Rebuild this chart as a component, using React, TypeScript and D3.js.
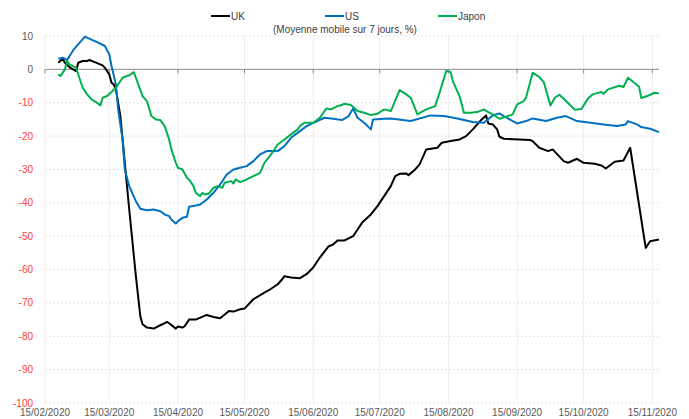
import * as d3 from "d3";

type Pt = [string, number];

// Mobilité, moyenne mobile 7 jours (%)
const ukData: Pt[] = [
  ["2020-02-21", 2], ["2020-02-23", 3.2], ["2020-02-24", 2], ["2020-02-26", 0.7], ["2020-02-29", -0.5],
  ["2020-03-01", 2], ["2020-03-03", 2.5], ["2020-03-05", 2.5], ["2020-03-06", 2.8], ["2020-03-09", 2],
  ["2020-03-12", 1.2], ["2020-03-13", 0.5], ["2020-03-15", -1.5], ["2020-03-16", -4], ["2020-03-17", -4.5],
  ["2020-03-18", -6], ["2020-03-20", -14], ["2020-03-21", -21], ["2020-03-24", -42], ["2020-03-27", -62],
  ["2020-03-29", -74], ["2020-03-30", -76.4], ["2020-04-01", -77.4], ["2020-04-04", -77.7], ["2020-04-06", -77],
  ["2020-04-08", -76.4], ["2020-04-10", -75.7], ["2020-04-11", -76.1], ["2020-04-14", -77.7], ["2020-04-15", -77.1],
  ["2020-04-17", -77.4], ["2020-04-18", -77], ["2020-04-20", -75], ["2020-04-23", -75], ["2020-04-28", -73.6],
  ["2020-05-01", -74.2], ["2020-05-04", -74.6], ["2020-05-08", -72.4], ["2020-05-10", -72.6], ["2020-05-13", -71.9],
  ["2020-05-15", -71.7], ["2020-05-19", -68.9], ["2020-05-24", -66.9], ["2020-05-26", -66.2], ["2020-05-30", -64.4],
  ["2020-06-01", -62.9], ["2020-06-02", -62], ["2020-06-05", -62.4], ["2020-06-09", -62.6], ["2020-06-12", -61.4],
  ["2020-06-15", -59.4], ["2020-06-18", -56.4], ["2020-06-22", -53], ["2020-06-24", -52.5], ["2020-06-26", -51.3],
  ["2020-06-29", -51.3], ["2020-07-03", -50], ["2020-07-07", -46], ["2020-07-11", -43.5], ["2020-07-14", -41],
  ["2020-07-17", -38], ["2020-07-20", -35], ["2020-07-22", -32], ["2020-07-24", -31.3], ["2020-07-27", -31.2],
  ["2020-07-28", -31.7], ["2020-07-31", -30], ["2020-08-02", -28.5], ["2020-08-05", -24], ["2020-08-10", -23.5],
  ["2020-08-12", -22], ["2020-08-16", -21.5], ["2020-08-20", -21], ["2020-08-23", -20], ["2020-08-26", -18],
  ["2020-08-30", -15], ["2020-09-01", -13.8], ["2020-09-02", -16.2], ["2020-09-04", -16.5], ["2020-09-06", -18],
  ["2020-09-07", -20.2], ["2020-09-09", -20.8], ["2020-09-21", -21.2], ["2020-09-22", -21.5], ["2020-09-25", -23.5],
  ["2020-09-29", -24.5], ["2020-10-01", -24], ["2020-10-06", -27.5], ["2020-10-08", -28], ["2020-10-12", -26.8],
  ["2020-10-15", -28], ["2020-10-20", -28.3], ["2020-10-23", -28.8], ["2020-10-25", -29.7], ["2020-10-29", -27.7],
  ["2020-11-02", -27.3], ["2020-11-05", -23.5], ["2020-11-12", -53.5], ["2020-11-14", -51.5], ["2020-11-18", -51],
];

const usData: Pt[] = [
  ["2020-02-21", 3.2], ["2020-02-23", 3.5], ["2020-02-25", 2.8], ["2020-02-28", 6], ["2020-03-04", 9.8],
  ["2020-03-06", 9.2], ["2020-03-10", 8], ["2020-03-13", 7], ["2020-03-15", 4.5], ["2020-03-16", 1],
  ["2020-03-18", -4.5], ["2020-03-19", -12], ["2020-03-21", -21], ["2020-03-22", -30], ["2020-03-24", -35],
  ["2020-03-27", -39.5], ["2020-03-29", -41.8], ["2020-04-01", -42.2], ["2020-04-04", -42], ["2020-04-07", -42.5],
  ["2020-04-09", -43.5], ["2020-04-11", -44], ["2020-04-12", -45], ["2020-04-14", -46.2], ["2020-04-15", -45.5],
  ["2020-04-17", -44.5], ["2020-04-19", -44.2], ["2020-04-20", -41.2], ["2020-04-23", -40.8], ["2020-04-25", -40.5],
  ["2020-04-28", -39], ["2020-05-01", -37], ["2020-05-04", -34.5], ["2020-05-07", -31.5], ["2020-05-10", -30],
  ["2020-05-13", -29.5], ["2020-05-16", -29], ["2020-05-19", -27.5], ["2020-05-22", -25.5], ["2020-05-25", -24.5],
  ["2020-05-30", -24.5], ["2020-06-02", -23], ["2020-06-05", -20.5], ["2020-06-09", -18.5], ["2020-06-12", -17],
  ["2020-06-20", -14.5], ["2020-06-24", -14.8], ["2020-06-28", -15.2], ["2020-07-01", -14], ["2020-07-03", -11.7],
  ["2020-07-05", -14.5], ["2020-07-08", -16], ["2020-07-11", -18], ["2020-07-12", -15], ["2020-07-17", -14.8],
  ["2020-07-20", -14.7], ["2020-07-29", -15.5], ["2020-08-07", -13.8], ["2020-08-13", -14], ["2020-08-19", -14.7],
  ["2020-08-26", -15.8], ["2020-08-31", -16], ["2020-09-04", -13.8], ["2020-09-07", -13.2], ["2020-09-09", -14],
  ["2020-09-13", -15.5], ["2020-09-15", -16.2], ["2020-09-19", -15.5], ["2020-09-22", -14.7], ["2020-09-28", -15.5],
  ["2020-10-03", -14.5], ["2020-10-07", -14], ["2020-10-12", -15.5], ["2020-10-18", -16], ["2020-10-24", -16.5],
  ["2020-10-30", -17], ["2020-11-03", -16.5], ["2020-11-04", -15.5], ["2020-11-08", -16.5], ["2020-11-10", -17.3],
  ["2020-11-14", -17.8], ["2020-11-18", -18.8],
];

const jpData: Pt[] = [
  ["2020-02-21", -1.5], ["2020-02-22", -2], ["2020-02-24", 0], ["2020-02-25", 2.5], ["2020-02-26", 1.5],
  ["2020-02-29", 0.5], ["2020-03-03", -5.5], ["2020-03-05", -7.5], ["2020-03-07", -9], ["2020-03-09", -9.8],
  ["2020-03-11", -10.8], ["2020-03-12", -8.5], ["2020-03-14", -8], ["2020-03-16", -6.8], ["2020-03-18", -5.5],
  ["2020-03-21", -2.5], ["2020-03-23", -2], ["2020-03-24", -1.8], ["2020-03-26", -0.8], ["2020-03-27", -2.5],
  ["2020-03-30", -8], ["2020-04-01", -9.5], ["2020-04-03", -14], ["2020-04-05", -15], ["2020-04-07", -15.2],
  ["2020-04-09", -17], ["2020-04-11", -21], ["2020-04-12", -24], ["2020-04-14", -28], ["2020-04-15", -29.5],
  ["2020-04-17", -30], ["2020-04-19", -32.5], ["2020-04-20", -33], ["2020-04-22", -35], ["2020-04-23", -37],
  ["2020-04-25", -38], ["2020-04-26", -37], ["2020-04-27", -37.5], ["2020-04-29", -37.2], ["2020-05-01", -35.5],
  ["2020-05-03", -35], ["2020-05-05", -35.5], ["2020-05-06", -34], ["2020-05-09", -33.5], ["2020-05-10", -34.2],
  ["2020-05-11", -33], ["2020-05-13", -33.8], ["2020-05-16", -33], ["2020-05-19", -32], ["2020-05-22", -31],
  ["2020-05-24", -28], ["2020-05-27", -25.5], ["2020-05-30", -22.5], ["2020-06-02", -21], ["2020-06-05", -19.5],
  ["2020-06-08", -18], ["2020-06-09", -17], ["2020-06-11", -16], ["2020-06-15", -16], ["2020-06-18", -14.5],
  ["2020-06-21", -11.7], ["2020-06-23", -12], ["2020-06-26", -11], ["2020-06-28", -10.7], ["2020-06-29", -10.3],
  ["2020-07-02", -10.7], ["2020-07-03", -11.3], ["2020-07-05", -12.5], ["2020-07-08", -13], ["2020-07-11", -13.7],
  ["2020-07-14", -13.3], ["2020-07-17", -12], ["2020-07-20", -12.5], ["2020-07-24", -6.2], ["2020-07-27", -7.5],
  ["2020-07-29", -8.5], ["2020-08-01", -13.5], ["2020-08-05", -12], ["2020-08-09", -11], ["2020-08-11", -7],
  ["2020-08-14", -0.5], ["2020-08-16", -0.8], ["2020-08-17", -3.5], ["2020-08-20", -8], ["2020-08-22", -13],
  ["2020-08-25", -13], ["2020-08-28", -12.8], ["2020-08-31", -12], ["2020-09-02", -12.8], ["2020-09-04", -13.5],
  ["2020-09-07", -14.8], ["2020-09-10", -14.2], ["2020-09-13", -13.5], ["2020-09-15", -10.5], ["2020-09-18", -9.5],
  ["2020-09-19", -8.5], ["2020-09-22", -1], ["2020-09-25", -2.3], ["2020-09-27", -3.8], ["2020-09-30", -10.8],
  ["2020-10-02", -8.5], ["2020-10-04", -7.6], ["2020-10-06", -8.8], ["2020-10-11", -12.1], ["2020-10-14", -11.9],
  ["2020-10-17", -8.7], ["2020-10-19", -7.5], ["2020-10-23", -6.8], ["2020-10-24", -7.3], ["2020-10-26", -6],
  ["2020-10-31", -4.9], ["2020-11-02", -5.3], ["2020-11-04", -2.5], ["2020-11-07", -4.1], ["2020-11-09", -5.2],
  ["2020-11-10", -8.6], ["2020-11-13", -7.9], ["2020-11-16", -7], ["2020-11-18", -7.2],
];

const xTicks = [
  "2020-02-15", "2020-03-15", "2020-04-15", "2020-05-15", "2020-06-15",
  "2020-07-15", "2020-08-15", "2020-09-15", "2020-10-15", "2020-11-15",
];
const yTicks = [10, 0, -10, -20, -30, -40, -50, -60, -70, -80, -90, -100];

const series = [
  { name: "UK", data: ukData, color: "#000000" },
  { name: "US", data: usData, color: "#0070c0" },
  { name: "Japon", data: jpData, color: "#00b050" },
];

const W = 689;
const H = 419;
const font = "'Liberation Sans', Arial, sans-serif";
const parse = d3.utcParse("%Y-%m-%d");
const fmt = d3.utcFormat("%d/%m/%Y");

export default function App() {
  const x = d3
    .scaleUtc()
    .domain([parse("2020-02-15")!, parse("2020-11-18")!])
    .range([45, 659]);
  const y = d3.scaleLinear().domain([-100, 10]).range([403, 36]);

  const line = d3
    .line<Pt>()
    .x((d) => x(parse(d[0])!))
    .y((d) => y(d[1]));

  const legendX = [211, 325, 438];

  return (
    <svg
      width={W}
      height={H}
      viewBox={`0 0 ${W} ${H}`}
      style={{ position: "absolute", left: 0, top: 0, background: "#fff" }}
    >
      {/* grille */}
      {yTicks
        .filter((t) => t !== 0)
        .map((t) => (
          <line
            key={`gy${t}`}
            x1={45}
            x2={659}
            y1={y(t)}
            y2={y(t)}
            stroke="#e2e2e2"
            strokeDasharray="2,2"
          />
        ))}
      {xTicks.map((t) => (
        <line
          key={`gx${t}`}
          x1={x(parse(t)!)}
          x2={x(parse(t)!)}
          y1={y(10)}
          y2={y(-100)}
          stroke="#ececec"
        />
      ))}

      {/* axe zéro */}
      <line x1={45} x2={659} y1={y(0)} y2={y(0)} stroke="#8c8c8c" strokeWidth={1} />
      {xTicks.map((t) => (
        <line
          key={`tk${t}`}
          x1={x(parse(t)!)}
          x2={x(parse(t)!)}
          y1={y(0)}
          y2={y(0) + 4}
          stroke="#8c8c8c"
        />
      ))}

      {/* libellés */}
      {yTicks.map((t) => (
        <text
          key={`ly${t}`}
          x={33}
          y={y(t)}
          dy="0.35em"
          textAnchor="end"
          fontFamily={font}
          fontSize={10}
          fill={t < 0 ? "#ff4040" : "#595959"}
        >
          {t}
        </text>
      ))}
      {xTicks.map((t) => (
        <text
          key={`lx${t}`}
          x={x(parse(t)!)}
          y={416}
          textAnchor="middle"
          fontFamily={font}
          fontSize={10}
          fill="#595959"
        >
          {fmt(parse(t)!)}
        </text>
      ))}

      {/* séries */}
      {series.map((s) => (
        <path
          key={s.name}
          d={line(s.data) ?? ""}
          fill="none"
          stroke={s.color}
          strokeWidth={2}
          strokeLinejoin="round"
        />
      ))}

      {/* légende */}
      {series.map((s, i) => (
        <g key={`lg${s.name}`}>
          <line
            x1={legendX[i]}
            x2={legendX[i] + 19}
            y1={16}
            y2={16}
            stroke={s.color}
            strokeWidth={2}
          />
          <text x={legendX[i] + 20} y={19.5} fontFamily={font} fontSize={10} fill="#404040">
            {s.name}
          </text>
        </g>
      ))}
      <text x={273} y={32.5} fontFamily={font} fontSize={10} fill="#404040">
        (Moyenne mobile sur 7 jours, %)
      </text>
    </svg>
  );
}
